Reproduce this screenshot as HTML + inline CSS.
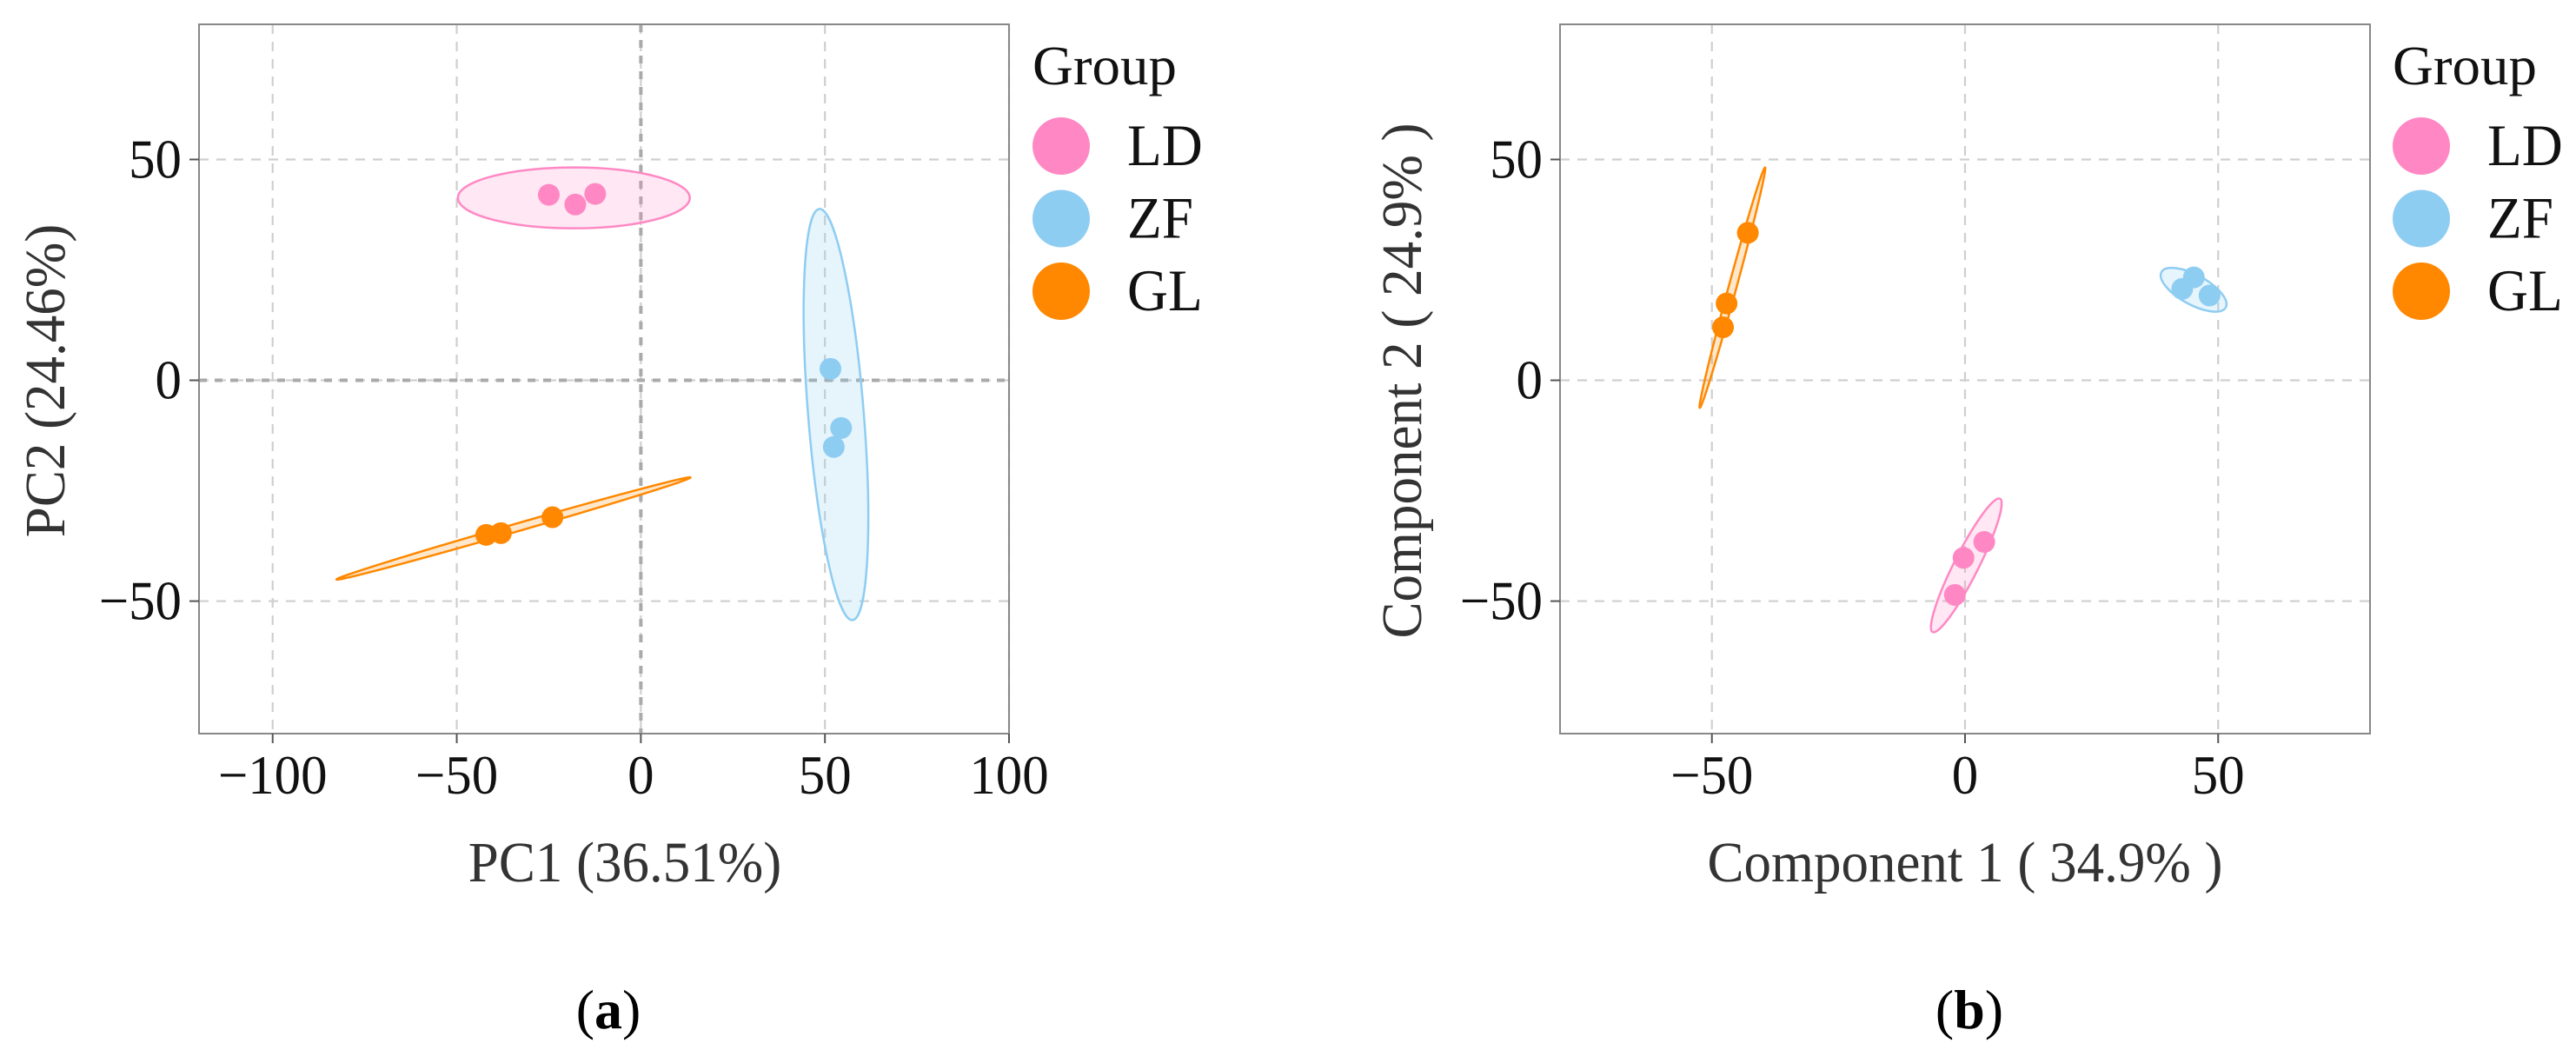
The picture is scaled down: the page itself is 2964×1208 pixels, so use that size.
<!DOCTYPE html>
<html><head><meta charset="utf-8"><style>
html,body{margin:0;padding:0;background:#fff;}
svg{display:block;font-family:"Liberation Serif",serif;}
</style></head><body>
<svg id="fig" width="2964" height="1208" viewBox="0 0 2964 1208" xmlns="http://www.w3.org/2000/svg"></svg>
<script>
const groups = ['LD','ZF','GL'];
const colors = ['#ff88c4','#8ecdf2','#ff8800'];
const fills = ['rgba(255,136,196,0.2)','rgba(142,205,242,0.22)','rgba(255,136,0,0.2)'];
// Panel a (PCA)
const aTicksX = [-100,-50,0,50,100];
const aTicksY = [-50,0,50];
const aLDx = [-25,-17.8,-12.4], aLDy = [42,39.8,42.2];
const aZFx = [51.5,54.4,52.4], aZFy = [2.6,-10.8,-15.1];
const aGLx = [-42,-38,-24], aGLy = [-35,-34.6,-31];
const aEllLD = [-49.7,41.3,13.3,41.3], aEllZF = [48.5,38.8,57.5,-54.3], aEllGL = [-82.7,-45.1,13.5,-22];
const aMinor = [35,32,4.5];
// Panel b (PLS-DA)
const bTicksX = [-50,0,50];
const bTicksY = [-50,0,50];
const bLDx = [-0.3,3.8,-2], bLDy = [-40.2,-36.6,-48.6];
const bZFx = [45.2,42.9,48.3], bZFy = [23.3,20.7,19.2];
const bGLx = [-42.9,-47.1,-47.8], bGLy = [33.4,17.4,12.0];
const bEllLD = [6.9,-26.8,-6.4,-57], bEllZF = [38.8,24.5,51.5,16.5], bEllGL = [-39.5,48.2,-52.4,-6.25];
const bMinor = [14,17,4.5];

const NS='http://www.w3.org/2000/svg';
const svg=document.getElementById('fig');
function mk(tag,attrs,parent){const e=document.createElementNS(NS,tag);for(const k in attrs)e.setAttribute(k,attrs[k]);(parent||svg).appendChild(e);return e;}

function panel(p){
  const g=mk('g',{});
  
  
  const sx=v=>p.x0+(v-p.xmin)/(p.xmax-p.xmin)*(p.x1-p.x0);
  const sy=v=>p.y1-(v-p.ymin)/(p.ymax-p.ymin)*(p.y1-p.y0);
  p.tx.forEach(t=>{const l=mk('line',{x1:sx(t),x2:sx(t),y1:p.y0,y2:p.y1,stroke:'#cfcfcf','stroke-width':2.2,'stroke-dasharray':'11 9'},g);
    });
  p.ty.forEach(t=>{const l=mk('line',{x1:p.x0,x2:p.x1,y1:sy(t),y2:sy(t),stroke:'#cfcfcf','stroke-width':2.2,'stroke-dasharray':'11 9'},g);
    });
  if(p.zero){
    const l1=mk('line',{x1:sx(0),x2:sx(0),y1:p.y0,y2:p.y1,stroke:'#aaaaaa','stroke-width':4,'stroke-dasharray':'9 9'},g);
    
    const l2=mk('line',{x1:p.x0,x2:p.x1,y1:sy(0),y2:sy(0),stroke:'#aaaaaa','stroke-width':4,'stroke-dasharray':'9 9'},g);
    
  }
  p.ell.forEach((e,i)=>{
    const X1=sx(e[0]),Y1=sy(e[1]),X2=sx(e[2]),Y2=sy(e[3]);
    const cx=(X1+X2)/2,cy=(Y1+Y2)/2,rx=Math.hypot(X2-X1,Y2-Y1)/2,ang=Math.atan2(Y2-Y1,X2-X1)*180/Math.PI;
    const el=mk('ellipse',{cx:cx,cy:cy,rx:rx,ry:p.minor[i],transform:`rotate(${ang} ${cx} ${cy})`,fill:fills[i],stroke:colors[i],'stroke-width':2.5},g);
    
    
  });
  p.pts.forEach((s,i)=>{
    s[0].forEach((xv,j)=>{
      const c=mk('circle',{cx:sx(xv),cy:sy(s[1][j]),r:12.5,fill:colors[i]},g);
      
      
    });
  });
  const b=mk('rect',{x:p.x0,y:p.y0,width:p.x1-p.x0,height:p.y1-p.y0,fill:'none',stroke:'#888','stroke-width':2},g);
  
  const txt=(x,y,size,anchor,fill,str,parent,sc)=>{
    const t=mk('text',{x:0,y:0,'font-size':size,'text-anchor':anchor,fill:fill,transform:`translate(${x},${y}) scale(${sc||'1.05,1.1'})`},parent);
    t.textContent=str;return t;};
  p.tx.forEach(t=>{
    mk('line',{x1:sx(t),x2:sx(t),y1:p.y1,y2:p.y1+11,stroke:'#555','stroke-width':2},g);
    const tl=txt(sx(t),913,58,'middle','#111',(t<0?'\u2212':'')+Math.abs(t),g);
    
  });
  p.ty.forEach(t=>{
    mk('line',{x1:p.x0-11,x2:p.x0,y1:sy(t),y2:sy(t),stroke:'#555','stroke-width':2},g);
    const tl=txt(p.x0-20,sy(t)+21,58,'end','#111',(t<0?'\u2212':'')+Math.abs(t),g);
    
  });
  const xt=txt(p.xtx,1014,60,'middle','#333',p.xlab,g);
  
  const yt=mk('text',{x:0,y:0,'font-size':60,'text-anchor':'middle',fill:'#333',transform:`translate(${p.ytx},438) rotate(-90) scale(1.05,1.1)`},g);
  yt.textContent=p.ylab;
  const lg=mk('g',{},g);
  const gt=txt(p.lx,97,58,'start','#111','Group',lg,'1.12,1.1');
  
  groups.forEach((gr,i)=>{
    const cy=168+i*83.5;
    const c=mk('ellipse',{cx:p.lx+33,cy:cy,rx:33,ry:33,fill:colors[i]},lg);
    
    const t=txt(p.lx+109,cy+22,62,'start','#111',gr,lg,'1.05,1.1');
    
  });
  const cap=mk('text',{x:p.capx,y:1183,'font-size':64,'text-anchor':'middle',fill:'#000'},g);
  cap.innerHTML='(<tspan font-weight="bold">'+p.cap+'</tspan>)';
  
}

panel({id:'pca',x0:229,x1:1161,y0:28,y1:844,xmin:-120,xmax:100,ymin:-80,ymax:80.6,tx:aTicksX,ty:aTicksY,zero:true,
  ell:[aEllLD,aEllZF,aEllGL],minor:aMinor,pts:[[aLDx,aLDy],[aZFx,aZFy],[aGLx,aGLy]],
  xlab:'PC1 (36.51%)',ylab:'PC2 (24.46%)',xtx:719,ytx:74,lx:1188,capx:700,cap:'a'});
panel({id:'plsda',x0:1795,x1:2727,y0:28,y1:844,xmin:-80,xmax:80,ymin:-80,ymax:80.6,tx:bTicksX,ty:bTicksY,zero:false,
  ell:[bEllLD,bEllZF,bEllGL],minor:bMinor,pts:[[bLDx,bLDy],[bZFx,bZFy],[bGLx,bGLy]],
  xlab:'Component 1 ( 34.9% )',ylab:'Component 2 ( 24.9% )',xtx:2261,ytx:1635,lx:2753,capx:2266,cap:'b'});
</script>
</body></html>
